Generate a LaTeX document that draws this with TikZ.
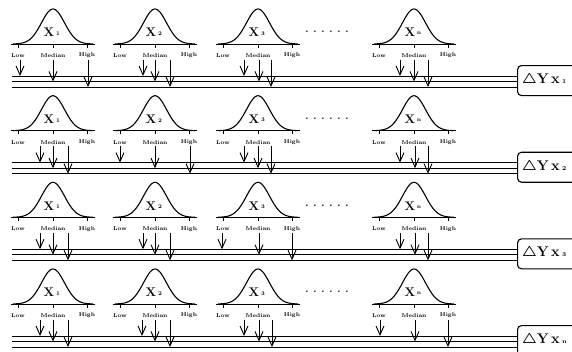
\documentclass[tikz,border=0pt]{standalone}
\usepackage{amsmath}
\usetikzlibrary{arrows.meta}
\begin{document}
\begin{tikzpicture}[x=1pt,y=-1pt,
  bell/.style={line width=1.1pt},
  baseln/.style={line width=1pt},
  ticklbl/.style={font=\fontsize{5.5}{5.5}\selectfont\bfseries, inner sep=0pt},
  xlbl/.style={font=\fontsize{12.5}{12.5}\selectfont\bfseries, inner sep=0pt},
  sublbl/.style={font=\fontsize{5.5}{5.5}\selectfont\bfseries, inner sep=0pt},
  dotlbl/.style={font=\fontsize{10}{10}\selectfont\bfseries, inner sep=0pt},
  busline/.style={line width=1pt},
  downarrow/.style={line width=0.9pt, -{Straight Barb[length=9pt,width=8pt,line width=0.9pt]}},
  ybox/.style={draw, line width=1.1pt, rounded corners=4pt, minimum width=64pt, minimum height=30pt, anchor=north west, inner sep=0pt},
  ylbl/.style={font=\fontsize{14}{14}\selectfont\bfseries, inner sep=0pt, anchor=west}
]
\path[use as bounding box] (0,0) rectangle (572,351);
\clip (0,0) rectangle (572,351);

\foreach \r/\s/\arrs [count=\i] in {
  0/1/{20,53,88,143,155,170,244,259,271,400,414,428},
  86.7/2/{40,53,68,120,155,190,244,258,271,400,415,428},
  173.3/3/{40,53,68,143,155,170,222,259,292,400,415,428},
  260/n/{40,53,68,142,155,170,244,259,272,380,415,448}} {
  % result box
  \node[ybox] (box\i) at (517,\r+65) {};
  \node[ylbl] (ylab\i) at (522,\r+80) {$\boldsymbol{\triangle}$Y\,{\fontsize{14.5}{14.5}\selectfont x}\,{\fontsize{6}{6}\selectfont \s}};
  % bus lines
  \foreach \k/\yy in {1/76,2/81.5,3/87} {
    \coordinate (L\i-\k) at (12,\r+\yy);
    \draw[busline] (L\i-\k) -- (L\i-\k -| box\i.west);
  }
  % bell curves
  \foreach \c/\sb [count=\j] in {53/1,155/2,258/3,414/n} {
    \draw[bell] plot[domain=-40:40, samples=61, smooth]
      ({\c+\x},{\r+44-35*exp(-((\x)*(\x))/264.5)});
    \draw[baseln] (\c-42,\r+44) -- (\c+42,\r+44);
    \foreach \dx in {-35,0,34} {
      \draw[line width=0.8pt] (\c+\dx,\r+44) -- (\c+\dx,\r+47.5);
    }
    \node[ticklbl] (low\i-\j) at (\c-35,\r+55.5) {Low};
    \node[ticklbl] (med\i-\j) at (\c,\r+55.5) {Median};
    \node[ticklbl] (high\i-\j) at (\c+34,\r+55.5) {High};
    \node[xlbl] (X\i-\j) at (\c-4,\r+32.5) {X};
    \node[sublbl] (XS\i-\j) at (\c+5,\r+33.5) {\sb};
  }
  \node[dotlbl] (dots\i) at (327,\r+32) {.\hspace{4.8pt}.\hspace{4.8pt}.\hspace{4.8pt}.\hspace{4.8pt}.\hspace{4.8pt}.};
  % arrows
  \foreach \ax [count=\m] in \arrs {
    \pgfmathtruncatemacro\kk{mod(\m-1,3)+1}
    \coordinate (A\i-\m) at (\ax,\r+59.5);
    \coordinate (T\i-\m) at (L\i-\kk -| A\i-\m);
    \draw[downarrow] (A\i-\m) -- (T\i-\m);
  }
}
\end{tikzpicture}
\end{document}
